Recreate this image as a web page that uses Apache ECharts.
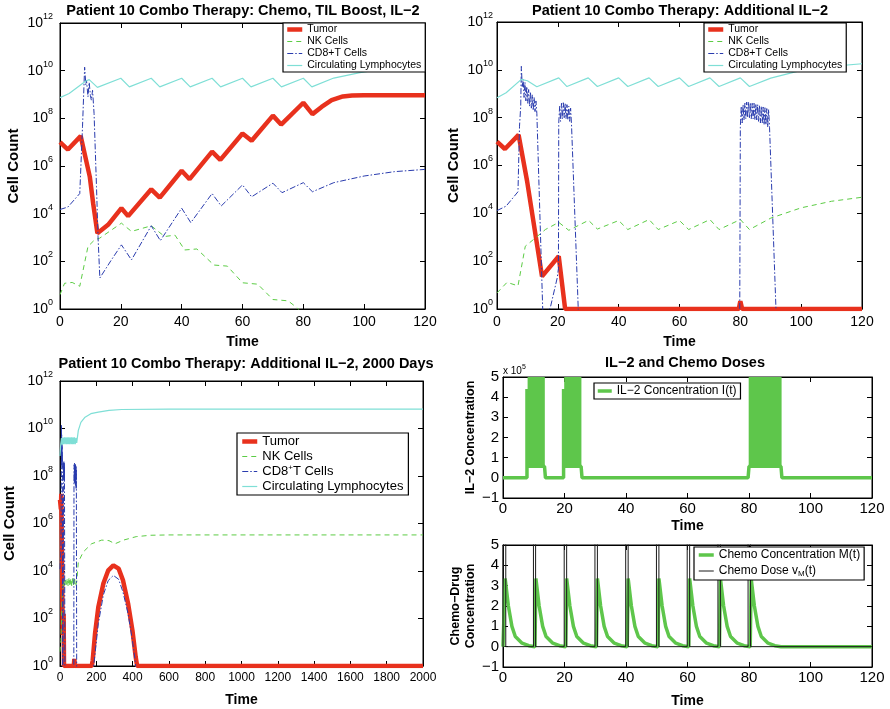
<!DOCTYPE html>
<html>
<head>
<meta charset="utf-8">
<script src="https://cdn.jsdelivr.net/npm/echarts@6.0.0/dist/echarts.min.js"></script>
<style>
  html, body { margin: 0; padding: 0; background: #fff; }
  #chart { width: 890px; height: 709px; }
</style>
</head>
<body>
<div id="chart"></div>
<script>
// ---------- data: [time (days), cell count] ----------
const cellNames = ['Tumor', 'NK Cells', 'CD8+T Cells', 'Circulating Lymphocytes'];

// panel 1: Chemo, TIL boost, IL-2 (0-120 days)
const p1Tumor = [[0,1e7],[2.6,4.9e6],[6.8,1.8e7],[9.8,3.5e5],[10.9,2.7e4],[12.3,1500],[12.9,1250],[15.8,3400],
  [20.2,1.7e4],[22.4,7900],[30,1.05e5],[32.8,4.7e4],[40,6.3e5],[42.6,2.8e5],[50,4e6],[52.7,1.8e6],[60,2.3e7],
  [63,1.15e7],[70,1.3e8],[72.7,5.5e7],[80,4.5e8],[83,1.5e8],[86,3e8],[89.3,5.8e8],[93,8.3e8],[96,9.1e8],[100,9.3e8],[120,9.3e8]];
const p1NK = [[0,4],[1.5,12],[4,13],[6.5,9],[9.2,420],[11.4,800],[13,930],[20.2,4000],[23.5,1800],[30,3100],
  [34.4,1100],[37.8,1260],[41,300],[45,330],[50.6,70],[55,63],[60,12.6],[65,11],[70,2.5],[75,2.2],[78,1.1],[82,0.3]];
const p1CD8 = [[0,1.5e4],[2.6,1.9e4],[6.5,7e4],[7.4,4.4e7],[8.1,1.4e10],[8.5,2.5e9],[8.7,4e9],[9.2,8e8],[9.6,3.2e9],
  [10,9e8],[10.3,5.8e8],[10.7,1.5e9],[11.2,1.6e8],[12,1.35e5],[12.5,1100],[13.1,20],[16.9,115],[20.2,490],[23.5,115],
  [30,3100],[33,740],[40,1.7e4],[43,4200],[50,7e4],[53,2.1e4],[60,1.6e5],[63,5.1e4],[70,1.9e5],[73,7.6e4],[80,2e5],
  [83,8.3e4],[90,2e5],[100,3.8e5],[110,5.8e5],[120,7.2e5]];
const p1Lymph = [[0,7.4e8],[3,1.1e9],[8.5,3.7e9],[9.6,4.2e9],[12.3,2e9],[20,4.8e9],[22.8,2.1e9],[30,4.8e9],[32.8,2.1e9],
  [40,4.8e9],[42.8,2.1e9],[50,4.8e9],[52.8,2.1e9],[60,4.8e9],[62.8,2.1e9],[70,4.8e9],[72.8,2.1e9],[80,4.8e9],[82.8,2.1e9],
  [90,4.9e9],[98.6,8.3e9],[110,1.4e10],[120,1.8e10]];

// panel 2: additional IL-2 (0-120 days)
const p2Tumor = [[0,1e7],[2.6,4.9e6],[7.1,1.9e7],[9.9,2.2e5],[14.8,23],[20.3,160],[22.4,1],[79.5,1],[80,2.1],[80.6,1],[120,1]];
const p2NK = [[0,4.7],[3.3,13],[6.9,9.3],[9.3,420],[12.6,930],[15.9,2100],[20.3,4200],[23.6,1950],[30.1,5100],[33,2200],
  [40,5000],[43,2100],[50,5500],[53,2100],[60,5000],[63,2100],[70,5500],[73,2100],[80,5500],[83,2100],[90,6300],
  [100,1.7e4],[110,3.2e4],[120,4.7e4]];
const p2CD8 = [[0,1.3e4],[3,2e4],[6.9,8e4],[7.4,4.4e7],[7.8,3e8],
  [8,1.4e10],[8.3,2e9],[8.6,4e9],[8.9,7e8],[9.2,3e9],[9.5,5e8],[9.8,2e9],[10.1,4e8],[10.4,1.5e9],[10.7,3e8],[11,1.2e9],
  [11.3,2.5e8],[11.6,9e8],[11.9,2e8],[12.2,7e8],[12.5,1.8e8],[12.8,5e8],[13.1,1.5e8],
  [15.1,0.5],[17.5,1.1],[19.8,20],[20.2,50],
  [20.3,6e7],[20.6,3e8],[20.9,7e7],[21.2,4e8],[21.5,9e7],[21.8,4.2e8],[22.1,1e8],[22.4,4e8],[22.7,9e7],[23,3.5e8],
  [23.3,8e7],[23.6,3e8],[23.9,7e7],[24.2,2.5e8],[24.5,5e7],
  [26.8,0.5],[79.8,0.5],
  [80,4e7],[80.3,3e8],[80.6,6e7],[80.9,3.5e8],[81.2,8e7],[81.5,4e8],[81.8,9e7],[82.1,4.5e8],[82.4,1e8],[82.7,4.5e8],
  [83,1e8],[83.3,4.2e8],[83.6,9e7],[83.9,4e8],[84.2,9e7],[84.5,4e8],[84.8,8e7],[85.1,3.8e8],[85.4,8e7],[85.7,3.5e8],
  [86,7e7],[86.3,3.3e8],[86.6,6e7],[86.9,3e8],[87.2,6e7],[87.5,2.8e8],[87.8,5e7],[88.1,2.6e8],[88.4,5e7],[88.7,2.4e8],
  [89,4e7],[89.3,2.2e8],[89.6,4e7],
  [91.8,0.5],[120,0.5]];
const p2Lymph = [[0,6.8e8],[3,1.1e9],[8,4e9],[10,3.5e9],[13.1,1.95e9],[20.3,4.6e9],[23,2e9],[30,4.6e9],[33,2e9],
  [40,4.6e9],[43,2e9],[50,4.6e9],[53,2e9],[60,4.6e9],[63,2e9],[70,4.6e9],[73,2e9],[80,4.6e9],[83,2e9],[90,4.5e9],
  [100,9.5e9],[110,1.4e10],[120,1.8e10]];

// panel 3: additional IL-2, 2000 days
const p3Tumor = [[0,1e7],[5,4e6],[7,1.8e7],[10,2e5],[15,20],[20,160],[22,1],[76,1],[79,2],[82,1],[175,1],[180,1.7],
  [193,23],[211,300],[239,2950],[266,1.07e4],[294,1.74e4],[323,1.26e4],[347,4100],[375,430],[399,32],[417,2.4],[425,1],[2000,1]];
const p3NK = [[0,4],[5,12],[8,10],[12,900],[20,4000],[24,2000],[30,5000],[35,2200],[40,5000],[45,2200],[50,5500],
  [55,2200],[60,5000],[65,2200],[70,5500],[75,2200],[80,5500],[85,2200],[92,3500],[101,2.4e4],[128,6.3e4],[174,1.4e5],
  [230,2e5],[270,1.9e5],[303,1.4e5],[350,2e5],[420,2.8e5],[500,3.2e5],[600,3.3e5],[2000,3.3e5]];
const p3CD8 = [[0,1.2e4],[5,8e4],[7,4e7],[8,1.4e10],[8.5,8e8],[9,6e9],[9.5,5e8],[10,3e9],[10.5,3e8],[11,2e9],
  [11.5,2e8],[12,1e9],[13,1e8],[15,0.5],[18,0.5],[20,6e7],[20.5,4e8],[21,8e7],[21.5,4e8],[22,9e7],[22.5,3.5e8],
  [23,7e7],[23.5,3e8],[24,6e7],[24.5,2.5e8],[27,0.5],[76,0.5],[77,4e7],[78,3e8],[79,5e7],[80,3.5e8],[81,6e7],
  [82,3.5e8],[83,5e7],[84,3e8],[85,4e7],[86,3e8],[87,4e7],[88,2.5e8],[89,3e7],[90,2e8],[92,0.5],[180,0.5],[190,2],
  [211,60],[239,1000],[266,4000],[294,6500],[323,4500],[347,1300],[375,160],[399,12],[415,1.5],[420,0.5],[2000,0.5]];
const p3Lymph = [[0,7e8],[4,2.2e9],[8,4e9],[12,2e9],[16,4.2e9],[20,2.2e9],[24,4.3e9],[28,2.2e9],[32,4.3e9],[36,2.2e9],
  [40,4.3e9],[44,2.2e9],[48,4.3e9],[52,2.2e9],[56,4.3e9],[60,2.2e9],[64,4.3e9],[68,2.2e9],[72,4.3e9],[76,2.2e9],
  [80,4.3e9],[84,2.2e9],[88,4e9],[92,2.5e9],[101,8.3e9],[115,1.8e10],[138,3e10],[170,4.2e10],[211,4.9e10],
  [270,5.8e10],[340,6.3e10],[600,6.5e10],[2000,6.5e10]];

// panel 4: IL-2 concentration (envelope line + solid dosing blocks)
const il2Line = [[0,0],[7.8,0],[7.8,4.4e5],[8.1,4.4e5],[8.1,5.7e4],[13.5,5.7e4],[13.8,0],[19.7,0],[19.7,4.4e5],
  [20,4.4e5],[20,5.7e4],[25.4,5.7e4],[25.7,0],[79.7,0],[80,5.7e4],[90.4,5.7e4],[90.7,0],[120,0]];
const il2Blocks = [[8.0,13.6],[19.9,25.5],[79.9,90.6]];
const il2BlockLow = 5.7e4;
const il2BlockHigh = 5e5;

// panel 5: chemo concentration and dose
const chemoConc = [[0,0],[0.4,0],[0.7,3.35],[1.1,3.3],[1.75,2],[2.9,1],[4,0.5],[6.2,0.17],[8.4,0.05],
  [10.4,0],[10.7,3.35],[11.1,3.3],[11.75,2],[12.9,1],[14,0.5],[16.2,0.17],[18.4,0.05],
  [20.4,0],[20.7,3.35],[21.1,3.3],[21.75,2],[22.9,1],[24,0.5],[26.2,0.17],[28.4,0.05],
  [30.4,0],[30.7,3.35],[31.1,3.3],[31.75,2],[32.9,1],[34,0.5],[36.2,0.17],[38.4,0.05],
  [40.4,0],[40.7,3.35],[41.1,3.3],[41.75,2],[42.9,1],[44,0.5],[46.2,0.17],[48.4,0.05],
  [50.4,0],[50.7,3.35],[51.1,3.3],[51.75,2],[52.9,1],[54,0.5],[56.2,0.17],[58.4,0.05],
  [60.4,0],[60.7,3.35],[61.1,3.3],[61.75,2],[62.9,1],[64,0.5],[66.2,0.17],[68.4,0.05],
  [70.4,0],[70.7,3.35],[71.1,3.3],[71.75,2],[72.9,1],[74,0.5],[76.2,0.17],[78.4,0.05],
  [80.4,0],[80.7,3.35],[81.1,3.3],[81.75,2],[82.9,1],[84,0.5],[86.2,0.17],[88.4,0.05],[90.4,0],[120,0]];
const chemoDose = [[0,0],[0.2,0],[0.2,20],[0.9,20],[0.9,0],[9.9,0],[9.9,20],[10.6,20],[10.6,0],
  [19.9,0],[19.9,20],[20.7,20],[20.7,0],[29.9,0],[29.9,20],[30.7,20],[30.7,0],[39.9,0],[39.9,20],[40.7,20],[40.7,0],
  [49.9,0],[49.9,20],[50.7,20],[50.7,0],[59.9,0],[59.9,20],[60.7,20],[60.7,0],[69.9,0],[69.9,20],[70.7,20],[70.7,0],
  [79.7,0],[79.7,20],[80.5,20],[80.5,0],[120,0]];

// ---------- styling ----------
const FONT = '"Liberation Sans", Arial, Helvetica, sans-serif';
const C = { tumor: '#e8311d', nk: '#5ccc45', cd8: '#2a3cae', lymph: '#7fdfd6', il2: '#5ec64b', dose: '#1a1a1a' };
const richExp = {
  b: { fontSize: 14, fontFamily: FONT, color: '#000' },
  s: { fontSize: 9, fontFamily: FONT, color: '#000', padding: [0, 0, 13, 0] }
};
const boldName = (size) => ({ fontFamily: FONT, fontWeight: 'bold', fontSize: size, color: '#000' });

const grid = [
  { left: 60, top: 23, width: 365, height: 286 },
  { left: 497, top: 22, width: 365, height: 287 },
  { left: 60, top: 381, width: 363, height: 285 },
  { left: 503, top: 377, width: 369, height: 121 },
  { left: 503, top: 545, width: 369, height: 122 }
].map(g => Object.assign({ show: true, borderColor: '#000', borderWidth: 1, backgroundColor: '#fff' }, g));

const xAxis = [], yAxis = [];
const lineAx = { show: true, onZero: false, lineStyle: { color: '#000', width: 1 } };
const tickIn = { inside: true, length: 5, lineStyle: { color: '#000' } };

function addX(gi, max, interval, fs, margin, gap) {
  const base = { gridIndex: gi, type: 'value', min: 0, max, interval, axisLine: lineAx, axisTick: tickIn, splitLine: { show: false } };
  xAxis.push(Object.assign({}, base, {
    position: 'bottom', name: 'Time', nameLocation: 'middle', nameGap: gap, nameTextStyle: boldName(14),
    axisLabel: { fontFamily: FONT, fontSize: fs, color: '#000', margin, formatter: v => String(v) }
  }));
  xAxis.push(Object.assign({}, base, { position: 'top', axisLabel: { show: false } }));
}

function addLogY(gi, margin, gap) {
  const base = { gridIndex: gi, type: 'log', logBase: 10, min: 1, max: 1e12, interval: 2, splitNumber: 6,
    axisLine: lineAx, axisTick: tickIn, splitLine: { show: false }, minorTick: { show: false } };
  yAxis.push(Object.assign({}, base, {
    position: 'left', name: 'Cell Count', nameLocation: 'middle', nameGap: gap, nameTextStyle: boldName(15),
    axisLabel: { margin, rich: richExp, formatter: v => '{b|10}{s|' + Math.round(Math.log10(v)) + '}' }
  }));
  yAxis.push(Object.assign({}, base, { position: 'right', axisLabel: { show: false } }));
}

function addLinY(gi, min, max, interval, scale, name, gap, margin) {
  const base = { gridIndex: gi, type: 'value', min, max, interval, axisLine: lineAx, axisTick: tickIn, splitLine: { show: false } };
  yAxis.push(Object.assign({}, base, {
    position: 'left', name, nameLocation: 'middle', nameGap: gap,
    nameTextStyle: Object.assign(boldName(12.5), { lineHeight: 15 }),
    axisLabel: { fontFamily: FONT, fontSize: 15, color: '#000', margin,
      formatter: v => { const n = Math.round(v / scale); return n < 0 ? '\u2212' + (-n) : String(n); } }
  }));
  yAxis.push(Object.assign({}, base, { position: 'right', axisLabel: { show: false } }));
}

addX(0, 120, 20, 14, 6, 26); addLogY(0, 7, 39);
addX(1, 120, 20, 14, 6, 26); addLogY(1, 4, 36);
addX(2, 2000, 200, 12, 6, 27); addLogY(2, 7, 43);
addX(3, 120, 20, 15, 3, 21); addLinY(3, -1e5, 5e5, 1e5, 1e5, 'IL\u22122 Concentration', 22, 4);
addX(4, 120, 20, 15, 3, 27); addLinY(4, -1, 5, 1, 1, 'Chemo\u2212Drug\nConcentration', 21, 4);

function line(name, data, gi, color, lineStyle) {
  return { type: 'line', name, data, xAxisIndex: 2 * gi, yAxisIndex: 2 * gi, symbol: 'none', clip: true,
    color, lineStyle: Object.assign({ color }, lineStyle), emphasis: { disabled: true } };
}
const tumorLS = { width: 4.5 };
const nkLS = { width: 1, type: [5, 4] };
const cd8LS = { width: 1, type: [6, 2, 1.5, 2] };
const lymphLS = { width: 1.2 };

const series = [];
[[p1Tumor, p1NK, p1CD8, p1Lymph], [p2Tumor, p2NK, p2CD8, p2Lymph], [p3Tumor, p3NK, p3CD8, p3Lymph]].forEach((set, gi) => {
  series.push(line('Tumor', set[0], gi, C.tumor, tumorLS));
  series.push(line('NK Cells', set[1], gi, C.nk, nkLS));
  series.push(line('CD8+T Cells', set[2], gi, C.cd8, cd8LS));
  series.push(line('Circulating Lymphocytes', set[3], gi, C.lymph, lymphLS));
});
const il2 = line('IL\u22122 Concentration I(t)', il2Line, 3, C.il2, { width: 3.5 });
il2.markArea = { silent: true, itemStyle: { color: C.il2, opacity: 1 },
  data: il2Blocks.map(b => [{ coord: [b[0], il2BlockLow] }, { coord: [b[1], il2BlockHigh] }]) };
series.push(il2);
series.push(line('Chemo Concentration M(t)', chemoConc, 4, C.il2, { width: 3.5 }));
series.push(line('Chemo Dose vM(t)', chemoDose, 4, C.dose, { width: 1 }));

// legend: line samples only (symbol hidden), widths inherited from the series
const legendBase = { orient: 'vertical', selectedMode: false, backgroundColor: '#fff', borderColor: '#000', borderWidth: 1.2,
  borderRadius: 0, itemGap: 1, itemWidth: 15, itemHeight: 8, padding: [1, 4, 1, 2],
  itemStyle: { opacity: 0, borderWidth: 0 }, lineStyle: { width: 'inherit' },
  textStyle: { fontFamily: FONT, fontSize: 10.5, color: '#000' } };

const legend = [
  Object.assign({}, legendBase, { left: 283, top: 23, data: cellNames }),
  Object.assign({}, legendBase, { left: 704, top: 23, data: cellNames }),
  Object.assign({}, legendBase, { left: 237, top: 433, padding: [1, 5, 1, 3], itemGap: 0,
    textStyle: { fontFamily: FONT, fontSize: 13, color: '#000', lineHeight: 15,
      rich: { sup: { fontFamily: FONT, fontSize: 8, color: '#000', lineHeight: 15, padding: [0, 0, 7, 0] } } },
    formatter: n => n === 'CD8+T Cells' ? 'CD8{sup|+}T Cells' : n, data: cellNames }),
  Object.assign({}, legendBase, { left: 594, top: 383, itemWidth: 14, padding: [2, 4, 2, 2],
    textStyle: { fontFamily: FONT, fontSize: 12, color: '#000' }, data: ['IL\u22122 Concentration I(t)'] }),
  Object.assign({}, legendBase, { left: 694, top: 547, itemWidth: 15, itemGap: 4, padding: [2, 4, 2, 3],
    textStyle: { fontFamily: FONT, fontSize: 12, color: '#000',
      rich: { sub: { fontFamily: FONT, fontSize: 8, color: '#000', padding: [6, 0, 0, 0] } } },
    formatter: n => n === 'Chemo Dose vM(t)' ? 'Chemo Dose v{sub|M}(t)' : n,
    data: ['Chemo Concentration M(t)', 'Chemo Dose vM(t)'] })
];

const titleStyle = { fontFamily: FONT, fontWeight: 'bold', fontSize: 14.5, color: '#000' };
const title = [
  { text: 'Patient 10 Combo Therapy: Chemo, TIL Boost, IL\u22122', left: 243, top: 3 },
  { text: 'Patient 10 Combo Therapy: Additional IL\u22122', left: 680, top: 3 },
  { text: 'Patient 10 Combo Therapy: Additional IL\u22122, 2000 Days', left: 246, top: 356 },
  { text: 'IL\u22122 and Chemo Doses', left: 685, top: 355 }
].map(t => Object.assign({ textAlign: 'center', padding: 0, textStyle: titleStyle }, t));
title.push({ text: 'x 10{s|5}', left: 503, top: 364, padding: 0,
  textStyle: { fontFamily: FONT, fontWeight: 'normal', fontSize: 10, color: '#000',
    rich: { s: { fontFamily: FONT, fontSize: 7, color: '#000', padding: [0, 0, 7, 0] } } } });

const chart = echarts.init(document.getElementById('chart'), null, { renderer: 'canvas' });
chart.setOption({ animation: false, backgroundColor: '#fff', title, legend, grid, xAxis, yAxis, series });
</script>
</body>
</html>
